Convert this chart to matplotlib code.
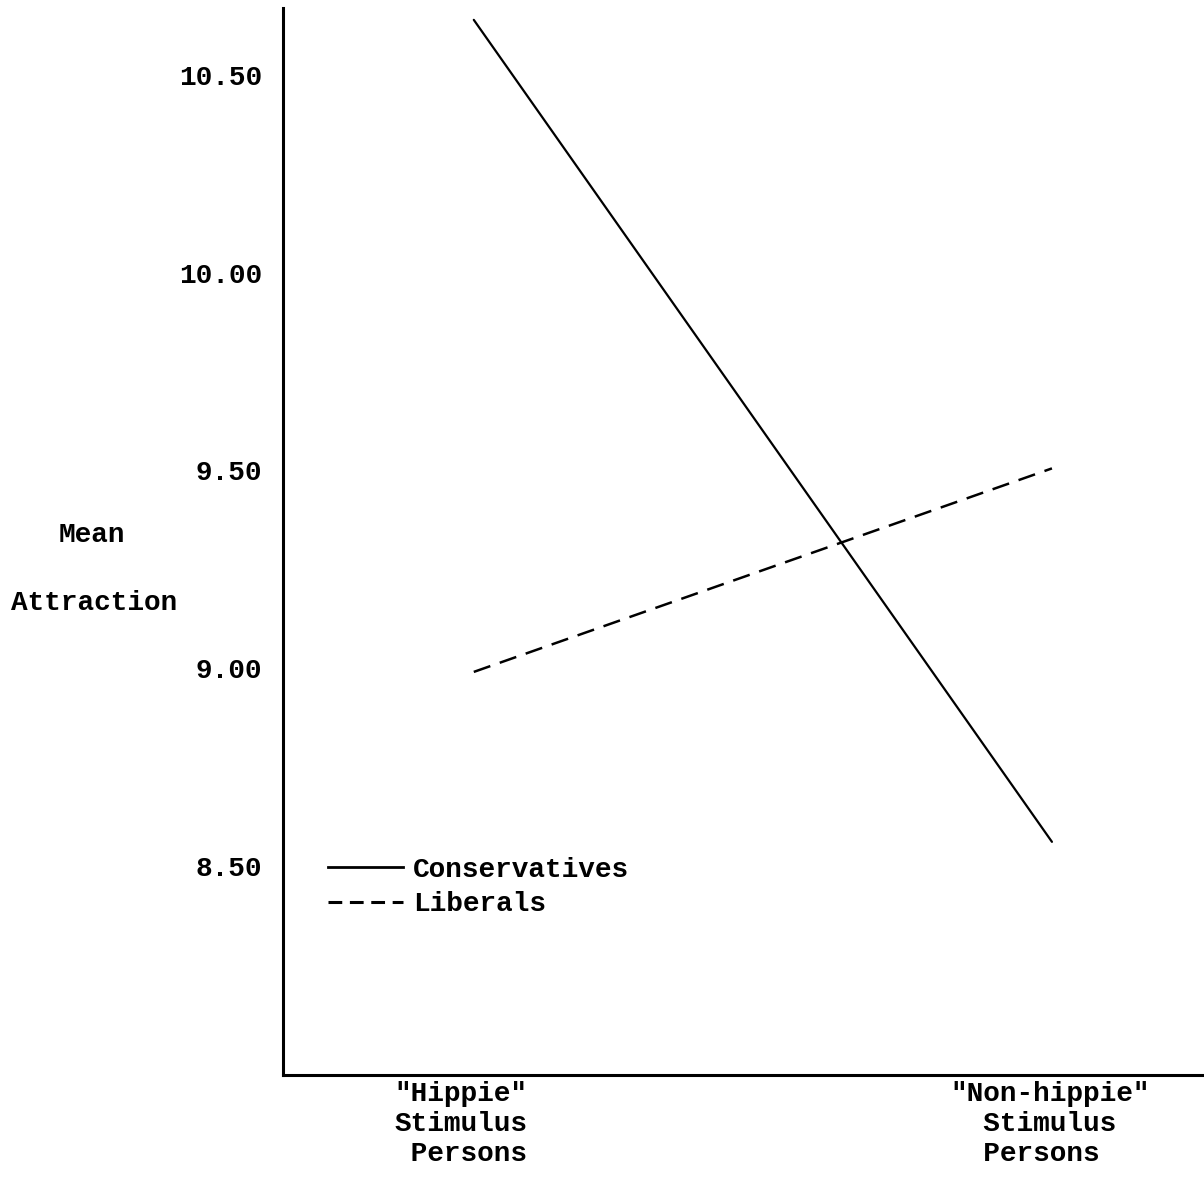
import matplotlib
matplotlib.use("Agg")
import matplotlib.pyplot as plt
from matplotlib.lines import Line2D
import matplotlib.transforms as mtransforms

categories = ['"Hippie"\nStimulus\n Persons', '"Non-hippie"\n  Stimulus\n  Persons']
conservatives = [10.64, 8.56]
liberals = [8.99, 9.505]
yticks = [8.50, 9.00, 9.50, 10.00, 10.50]
ytick_labels = ["8.50", "9.00", "9.50", "10.00", "10.50"]

plt.rcParams['font.family'] = ['Liberation Mono', 'DejaVu Sans Mono']
plt.rcParams['font.weight'] = 'bold'

fig = plt.figure(figsize=(12.04, 11.82), dpi=100)
ax = fig.add_axes([283/1204, 1-1075/1182, 1-283/1204, (1075-8)/1182])

x = [0, 1]
ax.plot(x, conservatives, color='black', lw=1.6, solid_capstyle='round')
ax.plot(x, liberals, color='black', lw=1.8, linestyle=(0, (7, 4)))

ax.set_xlim(-0.330, 1.263)
ax.set_ylim(7.97, 10.67)

for s in ['top', 'right']:
    ax.spines[s].set_visible(False)
for s in ['left', 'bottom']:
    ax.spines[s].set_linewidth(2.2)

ax.set_yticks(yticks)
ax.set_yticklabels(ytick_labels, fontsize=20)
ax.tick_params(axis='y', length=0, pad=15)
ax.set_xticks(x)
ax.set_xticklabels(categories, fontsize=20, linespacing=1.2, multialignment='left')
ax.tick_params(axis='x', length=0, pad=4)
offsets = [-13, -2]
for lbl, dx in zip(ax.get_xticklabels(), offsets):
    lbl.set_transform(lbl.get_transform() + mtransforms.ScaledTranslation(dx/100, 0, fig.dpi_scale_trans))

fig.text(92/1204, 1-535/1182, "Mean", fontsize=20, ha='center', va='center')
fig.text(94/1204, 1-603/1182, "Attraction", fontsize=20, ha='center', va='center')

h1 = Line2D([], [], color='black', lw=2.0)
h2 = Line2D([], [], color='black', lw=2.2, linestyle=(0, (4.5, 2.5)))
leg = ax.legend([h1, h2], ["Conservatives", "Liberals"], loc='upper left',
                bbox_to_anchor=((328-283)/921, 1-(857-8)/1067), frameon=False,
                fontsize=20, handlelength=2.7, handletextpad=0.35, labelspacing=0.3,
                borderpad=0, borderaxespad=0)

fig.savefig("out.png", dpi=100, facecolor='white')
